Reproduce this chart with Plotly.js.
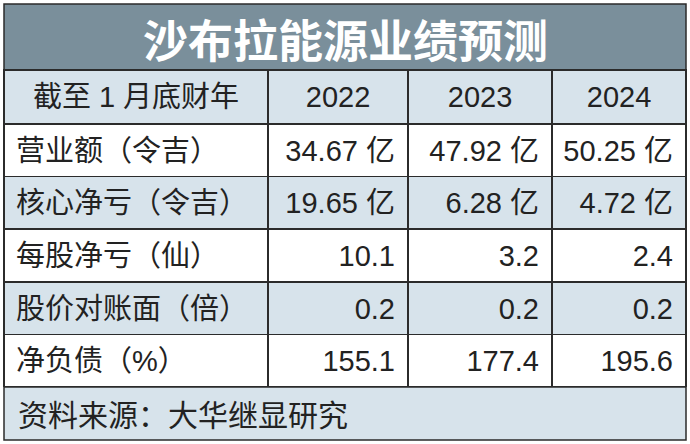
<!DOCTYPE html>
<html>
<head>
<meta charset="utf-8">
<script src="https://cdn.plot.ly/plotly-3.0.1.min.js"></script>
<style>
html,body{margin:0;padding:0;background:#fff;}
#chart{width:690px;height:444px;}
#chart text.cell-text{translate:0px 7px;}
</style>
</head>
<body>
<div id="chart"></div>
<script>
const titleText = "沙布拉能源业绩预测";
const headerLabels = ["截至 1 月底财年", "2022", "2023", "2024"];
const rowLabels = ["营业额（令吉）", "核心净亏（令吉）", "每股净亏（仙）", "股价对账面（倍）", "净负债（%）"];
const col2022 = ["34.67 亿", "19.65 亿", "10.1", "0.2", "155.1"];
const col2023 = ["47.92 亿", "6.28 亿", "3.2", "0.2", "177.4"];
const col2024 = ["50.25 亿", "4.72 亿", "2.4", "0.2", "195.6"];
const sourceText = "资料来源：大华继显研究";

const W = 690, H = 444;
const L = 4, R = 686, T = 4, titleB = 70, tableB = 387, B = 440;
const px = x => x / W, py = y => 1 - y / H;

const dark = "#2b2b2b";
const slate = "#7a8f9b";
const light = "#d7e3eb";
const rowFill = ["#ffffff", light, "#ffffff", light, "#ffffff"];
const fontStack = "Liberation Sans, Arial, Noto Sans CJK SC, sans-serif";

const trace = {
  type: "table",
  domain: {x: [px(L), px(R)], y: [py(tableB), py(titleB)]},
  columnwidth: [264, 140, 144, 134],
  header: {
    values: headerLabels,
    align: "center",
    height: 54,
    fill: {color: light},
    line: {color: dark, width: 1.5},
    font: {family: fontStack, size: 29, color: "#222"}
  },
  cells: {
    values: [rowLabels, col2022, col2023, col2024],
    align: ["left", "right", "right", "right"],
    height: 52.6,
    fill: {color: [rowFill, rowFill, rowFill, rowFill]},
    line: {color: dark, width: 1.5},
    font: {family: fontStack, size: 29, color: "#222"}
  }
};

const layout = {
  width: W, height: H,
  margin: {l: 0, r: 0, t: 0, b: 0},
  paper_bgcolor: "#ffffff",
  showlegend: false,
  shapes: [
    {type: "rect", xref: "paper", yref: "paper", x0: px(L), x1: px(R), y0: py(titleB), y1: py(T),
     fillcolor: slate, line: {color: dark, width: 1.5}, layer: "below"},
    {type: "rect", xref: "paper", yref: "paper", x0: px(L), x1: px(R), y0: py(B), y1: py(tableB),
     fillcolor: light, line: {color: dark, width: 1.5}, layer: "below"}
  ],
  annotations: [
    {text: titleText, xref: "paper", yref: "paper", x: px((L + R) / 2), y: py((T + titleB) / 2 + 1),
     xanchor: "center", yanchor: "middle", showarrow: false,
     font: {family: "Noto Sans CJK SC", size: 45, color: "#ffffff", weight: 700}},
    {text: sourceText, xref: "paper", yref: "paper", x: px(16), y: py((tableB + B) / 2 - 1),
     xanchor: "left", yanchor: "middle", showarrow: false,
     font: {family: "Noto Sans CJK SC", size: 30, color: "#222"}}
  ]
};

Plotly.newPlot("chart", [trace], layout, {displayModeBar: false, staticPlot: true}).then(function (gd) {
  gd.querySelectorAll("text.cell-text").forEach(function (el) {
    const anchor = getComputedStyle(el).textAnchor;
    if (anchor === "start") el.style.translate = "4px 7px";
    else if (anchor === "end") el.style.translate = "-5px 7px";
  });
});
</script>
</body>
</html>
